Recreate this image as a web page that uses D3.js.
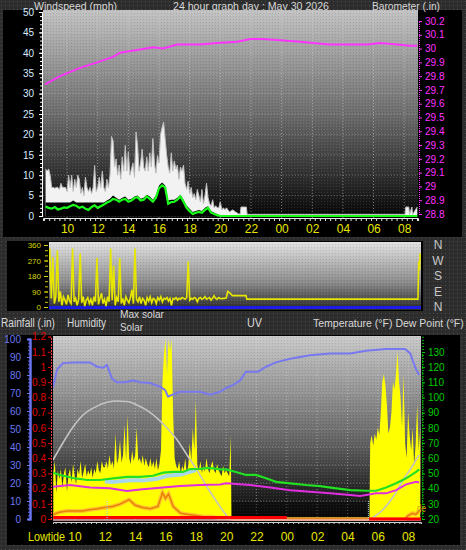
<!DOCTYPE html>
<html><head><meta charset="utf-8">
<script src="https://cdn.jsdelivr.net/npm/d3@7/dist/d3.min.js"></script>
<style>html,body{margin:0;padding:0;background:#2e2e2e;}svg{display:block;}</style>
</head><body>
<svg id="chart" width="466" height="550"></svg>
<script>
// ---------------- DATA ----------------
const hourTicks = [10,12,14,16,18,20,22,24,26,28,30,32];
const hourLabels = ["10","12","14","16","18","20","22","00","02","04","06","08"];
const windTicks = [0,5,10,15,20,25,30,35,40,45,50];
const baroTicks = [28.8,28.9,29.0,29.1,29.2,29.3,29.4,29.5,29.6,29.7,29.8,29.9,30.0,30.1,30.2];
const dirTicks = [0,90,180,270,360];
const compass = ["N","E","S","W","N"];
const humTicks = [0,10,20,30,40,50,60,70,80,90,100];
const rainTicks = [0,0.1,0.2,0.3,0.4,0.5,0.6,0.7,0.8,0.9,1.0,1.1,1.2];
const tempTicks = [20,30,40,50,60,70,80,90,100,110,120,130];

// wind gust (mph), every 0.1 h from 08:36
const gustStart = 8.6, gustStep = 0.1;
const gust = [11.5,11,11.5,10,7,7,6.8,7,7,6.5,
 8,7,7,7,6,10,7,10,6,9,
 7,10,9,5.5,7,5,9.5,7,6,7,
 5.5,7,12.4,6,7,9.5,7,11,7,6,
 9,7,10,19.5,18.5,12,14,10,12.5,9,
 14.5,11,17.3,11,15.7,10,11.5,13,9.5,20.6,
 17.5,11,13,16.4,12,11,14.5,11,15.5,12,
 19,13,10.5,14.8,13,20,21.7,23,19,15,
 12,10.5,15.5,11,13.5,11.5,12.5,9,12,11,
 12.5,8,6.5,8.5,5.5,7,4.5,5.5,4,6.5,
 5,3.5,6.5,3,5,8,4.5,3,2.5,4,
 2,2.5,2,2,3.5,1.5,2,1.5,2,1.5,1];
const gustTailTimes = [20.8,21.0,21.2,21.3,21.35,21.7,21.75,32.05,32.1,32.3,32.35,32.5,32.55,32.85];
const gustTail = [1.5,1,0.5,0.5,2.2,2.2,0.4,0.4,2.2,2.2,0.4,2.2,0.4,2.2];

// wind speed and average wind, every 0.2 h from 08:36
const windStart = 8.6, windStep = 0.2;
const windSpeed = [3.3,3.3,3.3,3.3,3.3,3.3,3.3,3.3,3.3,3.8,
 3.3,3.3,3.3,3.3,3.3,3.3,3.3,3.3,3.3,3.3,
 3.8,4.2,5.0,4.5,4.0,4.5,4.8,4.0,4.2,4.8,
 5.0,4.2,4.5,5.2,4.8,4.0,5.0,7.5,8.2,7.5,
 3.8,4.0,4.0,4.5,5.2,4.0,2.5,1.8,1.0,1.2,
 1.5,1.2,2.0,2.4,1.2,0.8,0.5,0.0];
const windAvg = [2.3,2.0,1.8,2.2,1.6,1.8,2.1,2.0,2.4,2.7,
 2.5,2.0,2.3,1.8,1.5,2.2,2.6,2.0,2.4,2.8,
 3.3,3.6,4.2,4.0,3.5,4.0,4.2,3.5,3.8,4.4,
 4.6,3.8,4.0,4.8,4.2,3.5,4.5,6.8,7.5,7.0,
 3.0,3.4,3.5,4.0,4.8,3.5,2.0,1.2,0.5,0.8,
 1.0,0.8,1.5,2.0,0.8,0.5,0.2,0.0];
const windTailTimes = [20.2,32.85];
const windTail = [0,0];

// barometer (in)
const baroTimes = [8.56,9.54,10.85,11.96,13.0,13.46,14.57,15.61,16.27,17.18,18.68,19.79,21.1,21.95,22.8,23.9,25.2,26.06,27.17,28.47,29.58,30.43,31.54,32.39,32.85];
const baro = [29.74,29.80,29.86,29.90,29.94,29.97,29.99,30.01,30.00,30.03,30.03,30.04,30.05,30.07,30.07,30.06,30.05,30.04,30.03,30.03,30.03,30.04,30.03,30.02,30.02];

// wind direction (deg), every 0.1 h from 08:30
const dirStart = 8.5, dirStep = 0.1;
const windDir = [340,50,290,20,60,330,30,90,10,60,
 40,15,70,35,20,340,30,50,10,45,
 310,25,60,5,40,55,20,45,10,60,
 30,285,15,50,80,20,45,5,60,30,
 340,40,240,10,55,30,285,20,50,10,
 60,40,25,55,100,20,340,45,30,60,
 20,50,40,10,55,35,60,25,50,45,
 20,55,40,60,30,50,45,55,35,50,
 10,50,45,55,40,50,45,55,50,45,
 55,265,40,50,45,55,50,30,50,55,
 45,50,60,45,50,55,40,50,65,50,
 45,55,50,48,50,50];
const dirTailTimes = [20.1,20.2,20.35,20.5,21.4,21.45,32.7,32.75,32.8,32.85];
const dirTail = [52,90,80,66,66,46,46,265,215,312];

// humidity (%)
const humTimes = [8.58,8.85,9.24,9.9,10.36,11.02,11.48,11.88,12.14,12.47,12.8,13.33,13.86,14.32,14.98,15.64,15.97,16.17,16.43,16.96,17.62,18.28,18.94,19.6,20.0,20.45,20.92,21.31,22.1,22.63,23.29,24.22,25.54,26.86,28.18,29.23,30.55,31.8,32.14,32.33,32.53,32.73];
const humidity = [73,83,86.6,87,87,87,84.6,84,85.5,78,76,76,77,76,75.5,73.5,71.7,68,69,70.7,70.7,70.7,69,70.7,72.8,74.4,77,81.8,81.8,84.6,87,89,91,92,92,93.5,94.4,94.4,92,87.4,83,80];

// temperature, wind chill & dew point (F)
const tempTimes = [8.58,9.04,9.9,10.82,11.68,12.54,13.46,14.32,15.18,15.84,16.5,17.16,17.62,18.28,18.74,19.14,19.6,20.0,20.65,21.31,21.97,22.63,23.29,24.22,25.28,26.2,27.26,28.18,29.23,29.89,30.55,31.21,31.87,32.53,32.73];
const temperature = [50.5,49,47,45.7,45.7,46.8,47.8,47.8,48.5,50.5,51,51,52.9,53,53.7,53.3,52.7,52.7,51,49,49,46.8,44.5,43.5,42.4,41.7,40.2,39,38.6,38.6,40.8,43.5,46.8,51,52.7];
const chillTimes = [12.0,12.5,13.0,13.5,14.0,14.5,15.0,15.5,16.0,16.5,17.0,17.5,18.0];
const windChill = [44.8,44.3,44.8,45.4,45.6,45.4,46.0,46.6,48.2,48.8,49.3,50.8,52.3];
const dewTimes = [8.58,9.7,11.02,12.34,13.46,14.32,15.64,16.96,18.28,19.6,20.0,21.58,22.9,24.22,25.54,26.86,28.18,28.84,29.89,30.55,31.21,31.87,32.53,32.73];
const dewPoint = [41.3,42.4,40.8,40.2,38.4,39.5,40.6,41.7,42.4,42.8,43.5,42.4,40.8,39,38,36.9,35.8,35.1,36.9,36.9,39,42.8,44.5,44];

// solar (W/m2), every 0.1 h from 08:36, and next morning from 05:30
const solarStart = 8.6, solarStep = 0.1;
const solar = [300,380,170,320,260,330,200,300,340,180,
 290,330,240,360,290,230,330,290,380,270,
 310,360,280,320,290,340,270,330,300,380,
 320,300,380,340,
 340,380,330,420,350,380,330,560,360,400,
 520,370,420,620,380,680,400,360,450,380,
 420,600,380,400,360,420,350,400,360,340,
 400,340,380,330,400,320,360,450,
 900,1080,1180,950,1180,1100,1180,700,
 400,350,330,380,300,350,320,400,300,350,
 500,380,600,450,780,350,320,380,300,350,
 310,400,330,300,350,380,320,300,360,320,
 300,280,350,300,320,300,280,550];
const solarGapTimes = [20.35,29.45];
const solarGap = [0,0];
const solar2Start = 29.5;
const solar2 = [500,550,480,560,520,600,550,700,900,950,
 880,750,560,600,700,900,850,950,1100,900,
 800,600,950,500,400,700,550,450,600,350,
 500,750,450,600];
const maxSolarTimes = [8.58,9.24,9.9,10.56,11.48,12.14,12.8,13.46,14.12,14.78,15.44,16.1,16.76,17.42,18.08,18.74,19.4,19.9,20.3,29.43,29.9,30.35,31.01,31.67,32.33,32.73];
const maxSolar = [387,500,603,682,740,765,774,770,748,712,662,597,520,420,320,210,110,40,0,0,25,62,144,256,354,420];

// UV index
const uvTimes = [8.6,9.0,9.5,10.0,10.5,11.0,11.5,12.0,12.5,13.0,13.3,13.6,14.0,14.5,15.0,15.5,15.8,16.0,16.2,16.5,17.0,17.5,18.0,18.5,19.0,19.5,20.0,20.5,31.8,32.0,32.3,32.5,32.8];
const uv = [0.4,0.6,0.7,0.7,0.7,0.8,0.9,1.0,1.1,1.3,1.5,1.7,1.2,1.0,0.9,1.1,2.3,1.8,2.2,1.1,0.5,0.4,0.3,0.2,0.2,0.1,0.1,0,0,0.3,0.5,0.4,0.8];

// rainfall (in)
const rainTimes = [8.6,24.0,24.01,29.4,29.41,32.85];
const rain = [0.01,0.01,null,null,0,0];
const tideTimes = [12.15,29.38];

// ---------------- DRAW ----------------
(function(){
const W = 466, H = 550;
const FONT = "'Liberation Sans', Arial, sans-serif";
const svg = d3.select("#chart");
const defs = svg.append("defs");

const pat = defs.append("pattern").attr("id","dots").attr("width",4).attr("height",4).attr("patternUnits","userSpaceOnUse");
pat.append("rect").attr("width",4).attr("height",4).attr("fill","#2d2d2d");
pat.append("rect").attr("x",1).attr("y",1).attr("width",1).attr("height",1).attr("fill","#4d4d4d");
svg.append("rect").attr("width",W).attr("height",H).attr("fill","url(#dots)");

const dith = defs.append("pattern").attr("id","dith").attr("width",3).attr("height",3).attr("patternUnits","userSpaceOnUse");
dith.append("rect").attr("x",0).attr("y",0).attr("width",1).attr("height",1).attr("fill","#ffffff").attr("fill-opacity",0.10);
dith.append("rect").attr("x",2).attr("y",1).attr("width",1).attr("height",1).attr("fill","#000000").attr("fill-opacity",0.10);

function grad(id, stops){
  const g = defs.append("linearGradient").attr("id",id).attr("x1",0).attr("x2",0).attr("y1",0).attr("y2",1);
  stops.forEach(s => g.append("stop").attr("offset",s[0]).attr("stop-color",s[1]));
}
grad("gTop",[[0,"#c2c2c2"],[0.5,"#6c6c6c"],[1,"#050505"]]);
grad("gMid",[[0,"#e2e2e2"],[0.6,"#8a8a8a"],[1,"#262626"]]);
grad("gBot",[[0,"#cacaca"],[0.55,"#666666"],[0.85,"#202020"],[1,"#080808"]]);

function clip(id,x,y,w,h){ defs.append("clipPath").attr("id",id).append("rect").attr("x",x).attr("y",y).attr("width",w).attr("height",h); }

svg.append("rect").attr("x",3).attr("y",10).attr("width",459).attr("height",227).attr("fill","#000");
svg.append("rect").attr("x",7).attr("y",241).attr("width",416).attr("height",70).attr("fill","#000");
svg.append("rect").attr("x",7).attr("y",335).attr("width",453).attr("height",210).attr("fill","#000");

function txt(s,x,y,opts){
  opts = opts || {};
  const t = svg.append("text").attr("x",x).attr("y",y).text(s)
    .attr("fill",opts.fill||"#d8d8d8").attr("font-size",(opts.size||11)+"px")
    .attr("font-family",FONT).attr("text-anchor",opts.anchor||"start");
  if (opts.len) t.attr("textLength",opts.len).attr("lengthAdjust","spacingAndGlyphs");
  return t;
}
txt("Windspeed (mph)",34,10,{len:83,size:11});
txt("24 hour graph day : May 30 2026",173,10,{len:156,size:11});
txt("Barometer (.in)",372,10,{len:68,size:11});

function styleAxis(g,color,size){
  g.attr("font-family",FONT).attr("font-size",size);
  g.selectAll("path.domain").attr("stroke",color);
  g.selectAll(".tick line").attr("stroke",color);
  g.selectAll(".tick text").attr("fill",color);
}
function series(times,vals){ return times.map((t,i)=>({t:t,v:vals[i]})); }
function regular(start,step,vals){ return vals.map((v,i)=>({t:start+i*step,v:v})); }

// ===== TOP PANEL =====
const xT = d3.scaleLinear().domain([8.43,32.9]).range([43,418]);
const yWind = d3.scaleLinear().domain([0,50]).range([216,12]);
const yBaro = d3.scaleLinear().domain([28.8,30.2]).range([214,21]);
svg.append("rect").attr("x",43).attr("y",10).attr("width",375).attr("height",208).attr("fill","url(#gTop)");
svg.append("rect").attr("x",43).attr("y",10).attr("width",375).attr("height",208).attr("fill","url(#dith)");
clip("cTop",43,10,375,208);
const gTop = svg.append("g").attr("clip-path","url(#cTop)");
gTop.append("g").selectAll("line").data(hourTicks).join("line")
  .attr("x1",d=>xT(d)).attr("x2",d=>xT(d)).attr("y1",10).attr("y2",218)
  .attr("stroke","#d8d8d8").attr("stroke-opacity",0.55).attr("stroke-dasharray","1,2");
gTop.append("g").selectAll("line").data(windTicks).join("line")
  .attr("x1",43).attr("x2",418).attr("y1",d=>yWind(d)).attr("y2",d=>yWind(d))
  .attr("stroke","#d8d8d8").attr("stroke-opacity",0.35).attr("stroke-dasharray","1,2");

const gustData = regular(gustStart,gustStep,gust).concat(series(gustTailTimes,gustTail));
const speedData = regular(windStart,windStep,windSpeed).concat(series(windTailTimes,windTail));
const avgData = regular(windStart,windStep,windAvg).concat(series(windTailTimes,windTail));
const areaT = d3.area().x(d=>xT(d.t)).y0(yWind(0)).y1(d=>yWind(d.v));
const lineT = d3.line().x(d=>xT(d.t)).y(d=>yWind(d.v));
gTop.append("path").datum(gustData).attr("d",areaT).attr("fill","#f2f2f2");
gTop.append("path").datum(gustData).attr("d",lineT).attr("fill","none").attr("stroke","#bdbdbd").attr("stroke-width",1);
gTop.append("path").datum(speedData).attr("d",areaT).attr("fill","#000");
gTop.append("path").datum(avgData).attr("d",lineT).attr("fill","none").attr("stroke","#1aff1a").attr("stroke-width",2.2);
gTop.append("path").datum(series(baroTimes,baro))
  .attr("d",d3.line().x(d=>xT(d.t)).y(d=>yBaro(d.v)))
  .attr("fill","none").attr("stroke","#ff33ff").attr("stroke-width",2);

const aWindMinor = svg.append("g").attr("transform","translate(42,0)")
  .call(d3.axisLeft(yWind).tickValues(d3.range(0,51,1)).tickSize(2).tickFormat(""));
styleAxis(aWindMinor,"#ffffff",10);
const aWind = svg.append("g").attr("transform","translate(42,0)")
  .call(d3.axisLeft(yWind).tickValues(windTicks).tickSize(3).tickPadding(5));
styleAxis(aWind,"#ffffff",10);
aWind.selectAll(".tick text").attr("fill","#d8ecff");
const aBaro = svg.append("g").attr("transform","translate(419,0)")
  .call(d3.axisRight(yBaro).tickValues(baroTicks).tickSize(3).tickPadding(3).tickFormat(d3.format("")));
styleAxis(aBaro,"#ff33ff",10);
aBaro.select("path.domain").attr("stroke-dasharray","1,1");
const aXT = svg.append("g").attr("transform","translate(0,218)")
  .call(d3.axisBottom(xT).tickValues(d3.range(8.5,33,1/3)).tickSize(3).tickFormat(""));
styleAxis(aXT,"#e8e8e8",10);
const aXTl = svg.append("g").attr("transform","translate(0,218)")
  .call(d3.axisBottom(xT).tickValues(hourTicks).tickSize(0).tickPadding(6.5).tickFormat((d,i)=>hourLabels[i]));
styleAxis(aXTl,"#e6e600",12);
aXTl.select("path.domain").remove();

// ===== MIDDLE PANEL =====
const xM = d3.scaleLinear().domain([8.45,32.9]).range([49,421]);
const yDir = d3.scaleLinear().domain([0,360]).range([307,245]);
svg.append("rect").attr("x",49).attr("y",242).attr("width",372).attr("height",68).attr("fill","url(#gMid)");
svg.append("rect").attr("x",49).attr("y",242).attr("width",372).attr("height",68).attr("fill","url(#dith)");
clip("cMid",49,242,372,68);
const gMid = svg.append("g").attr("clip-path","url(#cMid)");
gMid.append("line").attr("x1",49).attr("x2",421).attr("y1",yDir(0)+0.5).attr("y2",yDir(0)+0.5)
  .attr("stroke","#1c1ce8").attr("stroke-width",3);
const dirData = regular(dirStart,dirStep,windDir).concat(series(dirTailTimes,dirTail));
gMid.append("path").datum(dirData).attr("d",d3.line().x(d=>xM(d.t)).y(d=>yDir(d.v)))
  .attr("fill","none").attr("stroke","#e6e600").attr("stroke-width",1.6);
const aDirMinor = svg.append("g").attr("transform","translate(48,0)")
  .call(d3.axisLeft(yDir).tickValues(d3.range(0,361,30)).tickSize(3).tickFormat(""));
styleAxis(aDirMinor,"#c8c800",8);
aDirMinor.select("path.domain").remove();
const aDir = svg.append("g").attr("transform","translate(48,0)")
  .call(d3.axisLeft(yDir).tickValues(dirTicks).tickSize(4).tickPadding(3));
styleAxis(aDir,"#d4d400",8);
aDir.select("path.domain").remove();
svg.append("g").selectAll("text").data(dirTicks).join("text")
  .attr("x",438).attr("y",d=>yDir(d)+4).attr("text-anchor","middle")
  .attr("font-family",FONT).attr("font-size","12px").attr("fill","#c8c8c8")
  .text((d,i)=>compass[i]);

// ===== BOTTOM PANEL =====
txt("Rainfall (.in)",1,327,{len:54,size:12});
txt("Humidity",67,327,{len:39,size:12});
txt("Max solar",120,318,{len:44,size:11});
txt("Solar",120,331,{len:23,size:11});
txt("UV",247,327,{len:15,size:12});
txt("Temperature (°F) Dew Point (°F)",313,327,{size:10.5});

const xB = d3.scaleLinear().domain([8.58,32.85]).range([53,421]);
const yHum = d3.scaleLinear().domain([0,100]).range([519,339]);
const yRain = d3.scaleLinear().domain([0,1.2]).range([519,336.6]);
const yTemp = d3.scaleLinear().domain([20,130]).range([519,352]);
const ySolar = d3.scaleLinear().domain([0,1200]).range([519,336]);
const yUV = d3.scaleLinear().domain([0,16]).range([519,336]);

svg.append("rect").attr("x",53).attr("y",336).attr("width",368).attr("height",186).attr("fill","url(#gBot)");
svg.append("rect").attr("x",53).attr("y",336).attr("width",368).attr("height",186).attr("fill","url(#dith)");
clip("cBot",53,336,368,186);
const gBot = svg.append("g").attr("clip-path","url(#cBot)");
gBot.append("g").selectAll("line").data(hourTicks).join("line")
  .attr("x1",d=>xB(d)).attr("x2",d=>xB(d)).attr("y1",336).attr("y2",522)
  .attr("stroke","#d8d8d8").attr("stroke-opacity",0.5).attr("stroke-dasharray","1,2");
gBot.append("g").selectAll("line").data(humTicks).join("line")
  .attr("x1",53).attr("x2",421).attr("y1",d=>yHum(d)).attr("y2",d=>yHum(d))
  .attr("stroke","#d8d8d8").attr("stroke-opacity",0.4).attr("stroke-dasharray","1,2");
gBot.append("rect").attr("x",xB(20.3)).attr("y",502).attr("width",xB(29.38)-xB(20.3)).attr("height",18)
  .attr("fill","#000").attr("fill-opacity",0.35);

const solarData = regular(solarStart,solarStep,solar).concat(series(solarGapTimes,solarGap)).concat(regular(solar2Start,0.1,solar2));
gBot.append("path").datum(solarData)
  .attr("d",d3.area().x(d=>xB(d.t)).y0(ySolar(0)).y1(d=>ySolar(d.v)))
  .attr("fill","#ffff00");
gBot.append("path").datum(series(maxSolarTimes,maxSolar))
  .attr("d",d3.line().x(d=>xB(d.t)).y(d=>ySolar(d.v)).curve(d3.curveMonotoneX))
  .attr("fill","none").attr("stroke","#c4c4c4").attr("stroke-width",1.6);
gBot.append("path").datum(series(humTimes,humidity))
  .attr("d",d3.line().x(d=>xB(d.t)).y(d=>yHum(d.v)))
  .attr("fill","none").attr("stroke","#7878f0").attr("stroke-width",2);
const uvData = series(uvTimes,uv);
gBot.append("path").datum(uvData)
  .attr("d",d3.line().x(d=>xB(d.t)).y(d=>yUV(d.v)))
  .attr("fill","none").attr("stroke","#ffb43c").attr("stroke-width",4).attr("stroke-opacity",0.8);
gBot.append("path").datum(uvData)
  .attr("d",d3.line().x(d=>xB(d.t)).y(d=>yUV(d.v)))
  .attr("fill","none").attr("stroke","#e88000").attr("stroke-width",1.5);
gBot.append("line").attr("x1",53).attr("x2",421).attr("y1",yRain(0)+1).attr("y2",yRain(0)+1)
  .attr("stroke","#f0b0b8").attr("stroke-width",1.5);
gBot.append("path").datum(series(rainTimes,rain))
  .attr("d",d3.line().defined(d=>d.v!==null).x(d=>xB(d.t)).y(d=>yRain(d.v)))
  .attr("fill","none").attr("stroke","#ff0000").attr("stroke-width",3);
gBot.append("path").datum(series(dewTimes,dewPoint))
  .attr("d",d3.line().x(d=>xB(d.t)).y(d=>yTemp(d.v)))
  .attr("fill","none").attr("stroke","#e02ee0").attr("stroke-width",2);
gBot.append("path").datum(series(chillTimes,windChill))
  .attr("d",d3.line().x(d=>xB(d.t)).y(d=>yTemp(d.v)).curve(d3.curveMonotoneX))
  .attr("fill","none").attr("stroke","#a8d6ea").attr("stroke-width",4);
gBot.append("path").datum(series(tempTimes,temperature))
  .attr("d",d3.line().x(d=>xB(d.t)).y(d=>yTemp(d.v)))
  .attr("fill","none").attr("stroke","#22e022").attr("stroke-width",2.2);
gBot.append("g").selectAll("line").data(tideTimes).join("line")
  .attr("x1",d=>xB(d)).attr("x2",d=>xB(d)).attr("y1",501).attr("y2",521)
  .attr("stroke","#a8d0f0").attr("stroke-width",1).attr("stroke-dasharray","1,1");

const aHumMinor = svg.append("g").attr("transform","translate(30,0)")
  .call(d3.axisLeft(yHum).tickValues(d3.range(0,101,2)).tickSize(2).tickFormat(""));
styleAxis(aHumMinor,"#6060e8",10);
aHumMinor.select("path.domain").attr("stroke-width",2);
const aHum = svg.append("g").attr("transform","translate(30,0)")
  .call(d3.axisLeft(yHum).tickValues(humTicks).tickSize(3).tickPadding(6));
styleAxis(aHum,"#6a78f0",10);
aHum.select("path.domain").attr("stroke-width",2);
const aRain = svg.append("g").attr("transform","translate(51,0)")
  .call(d3.axisLeft(yRain).tickValues(rainTicks).tickSize(3).tickPadding(2).tickFormat(d3.format("")));
styleAxis(aRain,"#e00000",10);
aRain.select("path.domain").attr("stroke","#ff4040").attr("stroke-dasharray","2,1");
const aTempMinor = svg.append("g").attr("transform","translate(422,0)")
  .call(d3.axisRight(yTemp).tickValues(d3.range(20,141,2)).tickSize(2).tickFormat(""));
styleAxis(aTempMinor,"#00b000",10);
aTempMinor.select("path.domain").attr("stroke-dasharray","1,1");
const aTemp = svg.append("g").attr("transform","translate(422,0)")
  .call(d3.axisRight(yTemp).tickValues(tempTicks).tickSize(3).tickPadding(3));
styleAxis(aTemp,"#00cc00",10);
aTemp.select("path.domain").remove();
const aXB = svg.append("g").attr("transform","translate(0,522)")
  .call(d3.axisBottom(xB).tickValues(d3.range(8.75,33,1/3)).tickSize(2).tickFormat(""));
styleAxis(aXB,"#d0d0d0",10);
const aXBl = svg.append("g").attr("transform","translate(0,522)")
  .call(d3.axisBottom(xB).tickValues(hourTicks).tickSize(0).tickPadding(10.5).tickFormat((d,i)=>hourLabels[i]));
styleAxis(aXBl,"#e6e600",12);
aXBl.select("path.domain").remove();
txt("Lowtide",28,541,{fill:"#e6e600",size:12,len:37});
txt("de",417,512,{fill:"#d8a400",size:11,len:9});
})();
</script>
</body></html>
